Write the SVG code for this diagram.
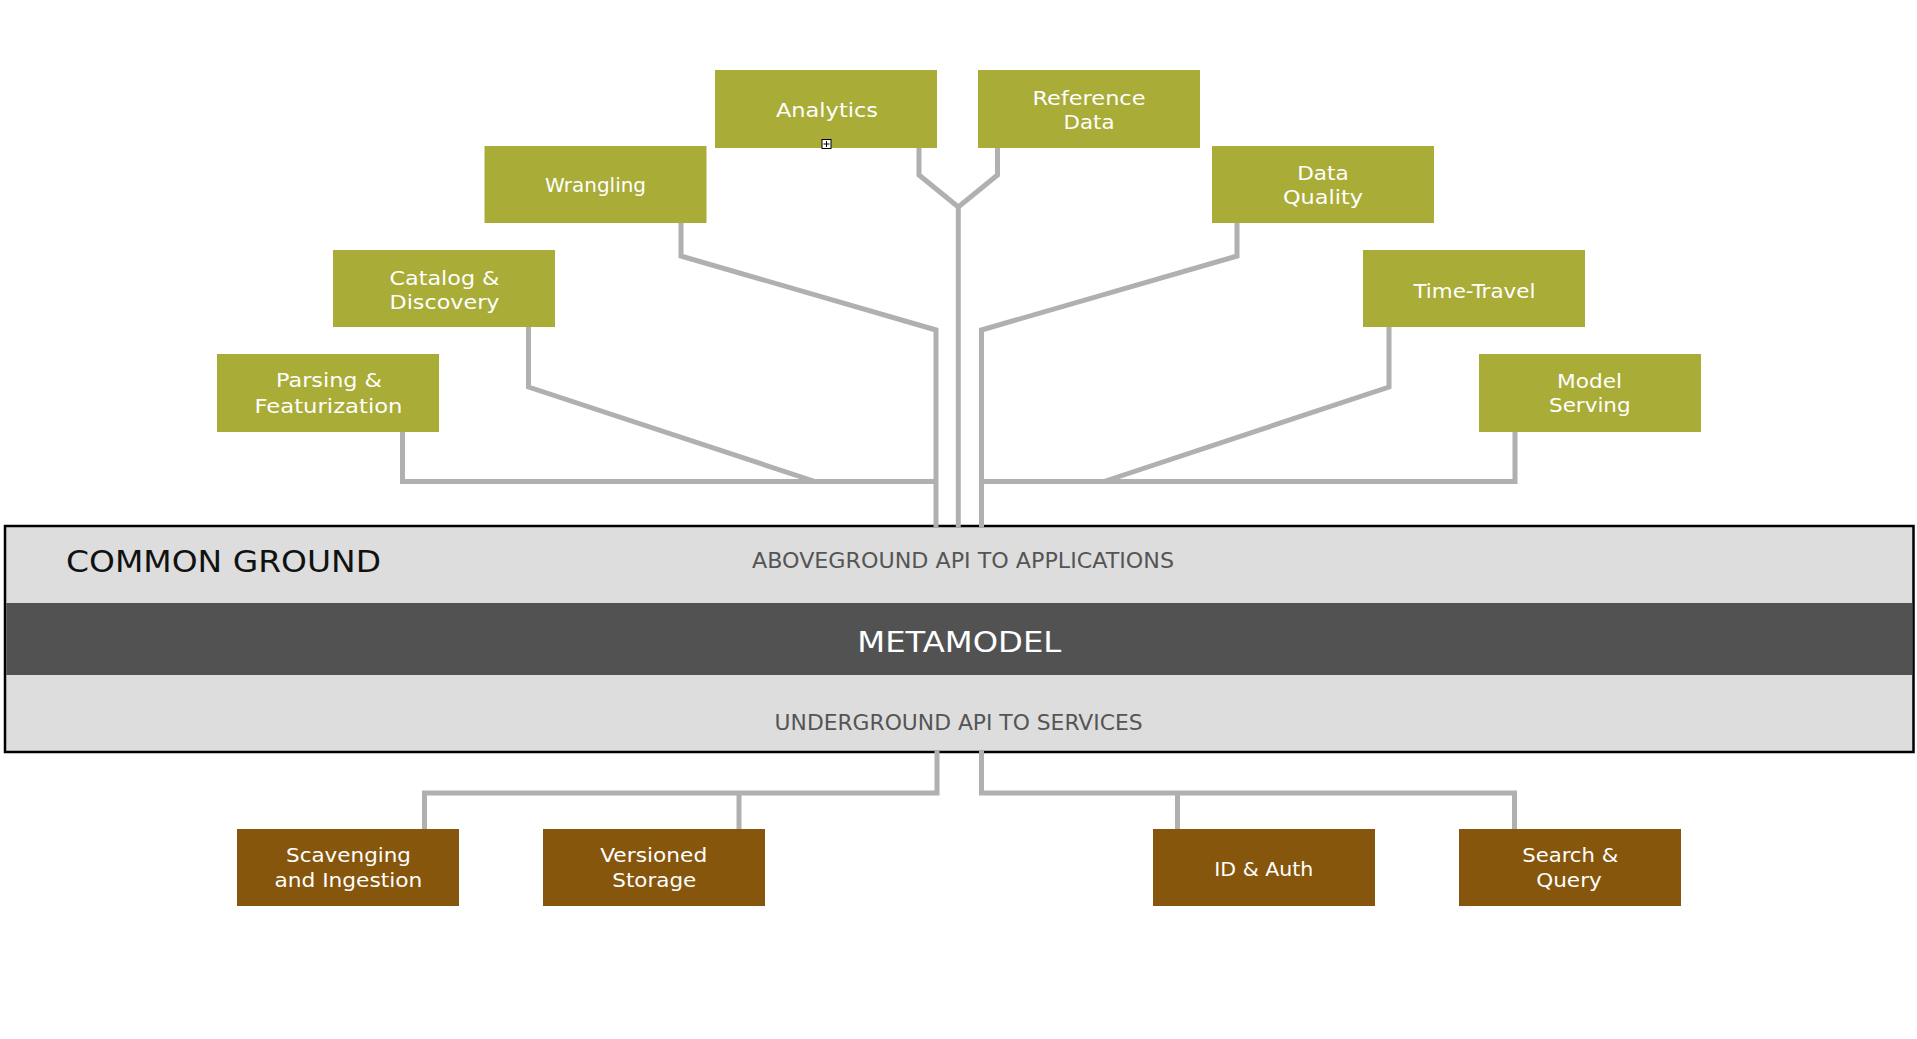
<svg xmlns="http://www.w3.org/2000/svg" width="1917" height="1039" viewBox="0 0 1917 1039">
<style>
.top rect{fill:#a9ac37}
.bot rect{fill:#86560d}
.lbl{font-family:"DejaVu Sans","Liberation Sans",sans-serif;font-size:20px;fill:#ffffff;text-anchor:middle}
.conn{fill:none;stroke:#b0b0b0;stroke-width:5;stroke-linejoin:miter}
.hdr{font-family:"DejaVu Sans","Liberation Sans",sans-serif}
</style>
<rect x="0" y="0" width="1917" height="1039" fill="#ffffff"/>

<g id="common-ground">
<rect x="5" y="526" width="1908.5" height="226" fill="#dddddd" stroke="#000000" stroke-width="2.5"/>
<rect x="6.25" y="603" width="1906" height="72" fill="#525252"/>
<text class="hdr" x="66" y="572.3" font-size="30" fill="#111111" textLength="315" lengthAdjust="spacingAndGlyphs">COMMON GROUND</text>
<text class="hdr" x="752" y="568.3" font-size="20.5" fill="#555555" textLength="422" lengthAdjust="spacingAndGlyphs">ABOVEGROUND API TO APPLICATIONS</text>
<text class="hdr" x="857.3" y="652.3" font-size="28.5" fill="#ffffff" textLength="204" lengthAdjust="spacingAndGlyphs">METAMODEL</text>
<text class="hdr" x="774.6" y="729.7" font-size="20.5" fill="#555555" textLength="368" lengthAdjust="spacingAndGlyphs">UNDERGROUND API TO SERVICES</text>
</g>

<g id="connectors">
<path class="conn" d="M919,148 V175 L958.3,207 L997.5,175 V148"/>
<path class="conn" d="M958.3,207 V527"/>
<path class="conn" d="M681,223 V256 L936,330 V527"/>
<path class="conn" d="M528.5,327 V387 L815,481.5"/>
<path class="conn" d="M402.5,432 V481.5 H936"/>
<path class="conn" d="M1237,223 V256 L981.5,330 V527"/>
<path class="conn" d="M1389,327 V387 L1104,481.5"/>
<path class="conn" d="M1515,432 V481.5 H981.5"/>
<path class="conn" d="M937,751 V793 H424.5 V829"/>
<path class="conn" d="M739,793 V829"/>
<path class="conn" d="M981.5,751 V793 H1514.5 V829"/>
<path class="conn" d="M1177.5,793 V829"/>
</g>

<g id="analytics" class="top">
<rect x="715" y="70" width="222" height="78"/>
<text class="lbl" x="827" y="116.7" font-size="21" textLength="102" lengthAdjust="spacingAndGlyphs">Analytics</text>
<rect x="822" y="139.5" width="9" height="9" fill="#ffffff" stroke="#000000" stroke-width="1" style="fill:#ffffff"/>
<path d="M826.5,141 V147 M823.5,144 H829.5" stroke="#000000" stroke-width="1"/>
</g>

<g id="reference-data" class="top">
<rect x="978" y="70" width="222" height="78"/>
<text class="lbl" x="1089" y="105" textLength="113" lengthAdjust="spacingAndGlyphs">Reference</text>
<text class="lbl" x="1089" y="129.3" textLength="51" lengthAdjust="spacingAndGlyphs">Data</text>
</g>

<g id="wrangling" class="top">
<rect x="484.5" y="146" width="222" height="77"/>
<text class="lbl" x="595.5" y="192.3" font-size="19.5" textLength="101" lengthAdjust="spacingAndGlyphs">Wrangling</text>
</g>

<g id="data-quality" class="top">
<rect x="1212" y="146" width="222" height="77"/>
<text class="lbl" x="1323" y="180" textLength="51.5" lengthAdjust="spacingAndGlyphs">Data</text>
<text class="lbl" x="1323" y="204" textLength="80" lengthAdjust="spacingAndGlyphs">Quality</text>
</g>

<g id="catalog-discovery" class="top">
<rect x="333" y="250" width="222" height="77"/>
<text class="lbl" x="444.5" y="285" textLength="110" lengthAdjust="spacingAndGlyphs">Catalog &amp;</text>
<text class="lbl" x="444.5" y="309.3" textLength="110" lengthAdjust="spacingAndGlyphs">Discovery</text>
</g>

<g id="time-travel" class="top">
<rect x="1363" y="250" width="222" height="77"/>
<text class="lbl" x="1474.4" y="297.7" textLength="122" lengthAdjust="spacingAndGlyphs">Time-Travel</text>
</g>

<g id="parsing-featurization" class="top">
<rect x="217" y="354" width="222" height="78"/>
<text class="lbl" x="329" y="387.3" textLength="106" lengthAdjust="spacingAndGlyphs">Parsing &amp;</text>
<text class="lbl" x="328.5" y="413.3" textLength="148" lengthAdjust="spacingAndGlyphs">Featurization</text>
</g>

<g id="model-serving" class="top">
<rect x="1479" y="354" width="222" height="78"/>
<text class="lbl" x="1589.5" y="387.7" textLength="65" lengthAdjust="spacingAndGlyphs">Model</text>
<text class="lbl" x="1589.8" y="411.7" textLength="81.6" lengthAdjust="spacingAndGlyphs">Serving</text>
</g>

<g id="scavenging-ingestion" class="bot">
<rect x="237" y="829" width="222" height="77"/>
<text class="lbl" x="348.5" y="862.3" textLength="125" lengthAdjust="spacingAndGlyphs">Scavenging</text>
<text class="lbl" x="348.4" y="886.7" textLength="148" lengthAdjust="spacingAndGlyphs">and Ingestion</text>
</g>

<g id="versioned-storage" class="bot">
<rect x="543" y="829" width="222" height="77"/>
<text class="lbl" x="653.7" y="862.3" textLength="107" lengthAdjust="spacingAndGlyphs">Versioned</text>
<text class="lbl" x="654.3" y="886.7" textLength="84" lengthAdjust="spacingAndGlyphs">Storage</text>
</g>

<g id="id-auth" class="bot">
<rect x="1153" y="829" width="222" height="77"/>
<text class="lbl" x="1263.8" y="875.7" textLength="99" lengthAdjust="spacingAndGlyphs">ID &amp; Auth</text>
</g>

<g id="search-query" class="bot">
<rect x="1459" y="829" width="222" height="77"/>
<text class="lbl" x="1570.2" y="862.3" textLength="96" lengthAdjust="spacingAndGlyphs">Search &amp;</text>
<text class="lbl" x="1569" y="886.7" textLength="65.5" lengthAdjust="spacingAndGlyphs">Query</text>
</g>
</svg>
